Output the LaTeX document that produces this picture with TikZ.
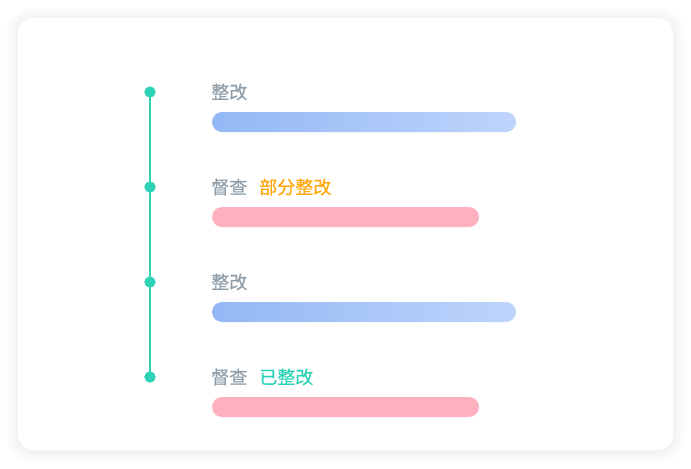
\documentclass[tikz,border=0pt]{standalone}
\usepackage{fontspec}
\newfontfamily\cjk[FakeBold=0.45]{Noto Sans CJK SC}
\definecolor{teal1}{HTML}{2ED3B7}
\definecolor{greytxt}{HTML}{8F9EA8}
\definecolor{orangetxt}{HTML}{FFA708}
\definecolor{bluea}{HTML}{93B8F5}
\definecolor{blueb}{HTML}{BED4FB}
\definecolor{pinkbar}{HTML}{FDB0BF}
\definecolor{shadowc}{HTML}{E4E9F2}
\tikzset{
  lbl/.style={anchor=west,inner sep=0pt,font=\cjk\fontsize{13.5}{14}\selectfont,text=greytxt},
  dot/.style={circle,fill=teal1,inner sep=0pt,minimum size=8.3pt},
  bluebar/.style={rounded corners=7.5pt,left color=bluea,right color=blueb},
  pinkbarst/.style={rounded corners=7.5pt,fill=pinkbar},
}
\begin{document}
\begin{tikzpicture}[x=0.75pt,y=-0.75pt]
\useasboundingbox (0,0) rectangle (691,468);
\fill[white] (0,0) rectangle (691,468);
% shadow
\foreach \i in {1,...,12}{
  \fill[shadowc,opacity=0.035,rounded corners={(15+\i)*0.75pt}] (18-\i,19-\i) rectangle (673+\i,451+\i);
}
\fill[white,rounded corners=11.5pt] (18,18) rectangle (673,450);
% timeline
\node[dot] (d1) at (150,92) {};
\node[dot] (d2) at (150,187) {};
\node[dot] (d3) at (150,282) {};
\node[dot] (d4) at (150,377) {};
\draw[teal1,line width=1pt] (d1.center) -- (d4.center);
\foreach \n in {d1,d2,d3,d4}{\node[dot] at (\n) {};}
% items
\node[lbl] (t1) at (211,92) {整改};
\shade[bluebar] (212,112) rectangle (516,132);
\node[lbl] (t2) at (211,187) {督查};
\node[lbl,text=orangetxt] (s2) at (259,187) {部分整改};
\fill[pinkbarst] (212,207) rectangle (479,227);
\node[lbl] (t3) at (211,282) {整改};
\shade[bluebar] (212,302) rectangle (516,322);
\node[lbl] (t4) at (211,377) {督查};
\node[lbl,text=teal1] (s4) at (259,377) {已整改};
\fill[pinkbarst] (212,397) rectangle (479,417);
\end{tikzpicture}
\end{document}
